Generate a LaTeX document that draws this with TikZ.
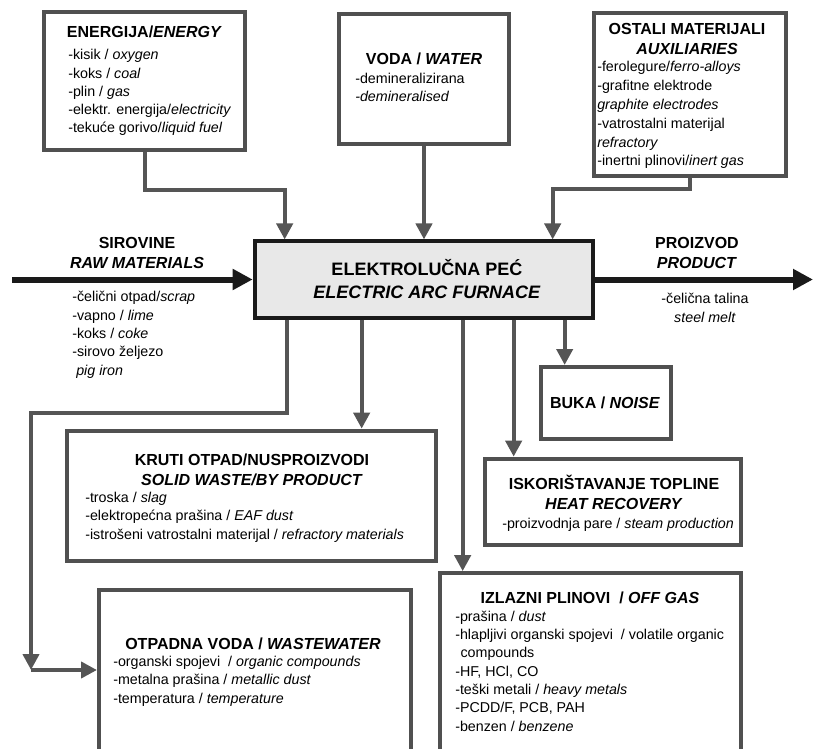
\documentclass[tikz,border=0pt]{standalone}
\usepackage{fontspec}
\setmainfont{Liberation Sans}
\usepackage{tikz}
\usetikzlibrary{arrows.meta, positioning, calc}
\definecolor{boxgray}{HTML}{505050}
\definecolor{linegray}{HTML}{555555}
\definecolor{furnacefill}{HTML}{E8E8E8}
\definecolor{inkblack}{HTML}{1A1A1A}
\newcommand{\headfont}{\fontsize{12}{15}\selectfont\bfseries}
\newcommand{\bigheadfont}{\fontsize{13.5}{17}\selectfont\bfseries}
\newcommand{\listfont}{\fontsize{10.7}{13.7}\selectfont}

\tikzset{
  box/.style={draw=boxgray, line width=3pt, fill=white, inner sep=0pt},
  furnace/.style={draw=inkblack, line width=3pt, fill=furnacefill, inner sep=0pt},
  flow/.style={draw=linegray, line width=3pt, -{Triangle[length=12pt,width=12pt]}},
  mainflow/.style={draw=inkblack, line width=4.5pt, -{Triangle[length=15pt,width=15pt]}},
  head/.style={font=\headfont, align=center, anchor=base, inner sep=0pt},
  items/.style={font=\listfont, align=left, anchor=base west, inner sep=0pt}
}

\begin{document}
\begin{tikzpicture}[x=0.75pt, y=-0.75pt]
  \useasboundingbox (0,0) rectangle (819,749);
  % boxes
  \node[box, minimum width=151pt, minimum height=104pt] (energy) at (144.5,81) {};
  \node[box, minimum width=128pt, minimum height=98pt] (voda) at (424,79) {};
  \node[box, minimum width=144pt, minimum height=122pt] (ostali) at (690,94.5) {};
  \node[furnace, minimum width=254pt, minimum height=57pt] (eaf) at (424,279.5) {};
  \node[box, minimum width=98pt, minimum height=54pt] (buka) at (606,403) {};
  \node[box, minimum width=277pt, minimum height=98pt] (solid) at (251.5,496) {};
  \node[box, minimum width=192pt, minimum height=65pt] (heat) at (613,502) {};
  \node[box, minimum width=226pt, minimum height=140pt] (offgas) at (590.5,666.5) {};
  \node[box, minimum width=234pt, minimum height=128pt] (waste) at (255,675) {};

  % inputs
  \draw[flow] (energy.south) -- ++(0,38) -| ($(eaf.north west)+(32,0)$);
  \draw[flow] (voda.south) -- (eaf.north);
  \draw[flow] (ostali.south) -- ++(0,11) -| ($(eaf.north west)+(300,0)$);
  \coordinate (rawin) at (12,279.5);
  \coordinate (prodout) at (813,279.5);
  \draw[mainflow] (rawin) -- (eaf.west);
  \draw[mainflow] (eaf.east) -- (prodout);

  % outputs
  \foreach \dx/\nm in {34/o1, 109/o2, 210/o3, 261/o4, 312/o5}
    \coordinate (\nm) at ($(eaf.south west)+(\dx,0)$);
  \coordinate (wbend) at (31,413);
  \coordinate (wcorner) at (31,670);
  \draw[flow] (o1) |- (wbend) -- (wcorner);
  \draw[flow] (wcorner) -- (wcorner -| waste.west);
  \foreach \src/\dst in {o2/solid, o3/offgas, o4/heat, o5/buka}
    \draw[flow] (\src) -- (\src |- \dst.north);

  % texts (multi-line nodes sit on their last baseline)
  \node[head] (energyhead) at (144.5,38) {ENERGIJA/\textit{ENERGY}};
  \node[items] (energylist) at (68,133) {-kisik / \textit{oxygen}\\-koks / \textit{coal}\\-plin / \textit{gas}\\-elektr. energija/\textit{electricity}\\-tekuće gorivo/\textit{liquid fuel}};
  \node[head] (vodahead) at (424,65) {VODA / \textit{WATER}};
  \node[items] (vodalist) at (355,102) {-demineralizirana\\\textit{-demineralised}};
  \node[head] (ostalihead) at (687,55) {OSTALI MATERIJALI\\\textit{AUXILIARIES}};
  \node[items, font=\fontsize{10.7}{14.1}\selectfont] (ostalilist) at (597,166) {-ferolegure/\textit{ferro-alloys}\\-grafitne elektrode\\\textit{graphite electrodes}\\-vatrostalni materijal\\\textit{refractory}\\-inertni plinovi/\textit{inert gas}};
  \node[head] (rawhead) at (137,268) {SIROVINE\\\textit{RAW MATERIALS}};
  \node[items] (rawlist) at (72,375) {-čelični otpad/\textit{scrap}\\-vapno / \textit{lime}\\-koks / \textit{coke}\\-sirovo željezo\\\hspace{3pt}\textit{pig iron}};
  \node[head, font=\bigheadfont] (eafhead) at (427,298) {ELEKTROLUČNA PEĆ\\\textit{ELECTRIC ARC FURNACE}};
  \node[head] (prodhead) at (697,268) {PROIZVOD\\\textit{PRODUCT}};
  \node[items, align=center, anchor=base] (prodlist) at (705,322) {-čelična talina\\\textit{steel melt}};
  \node[head] (bukahead) at (605,408) {BUKA / \textit{NOISE}};
  \node[head] (solidhead) at (252,485) {KRUTI OTPAD/NUSPROIZVODI\\\textit{SOLID WASTE/BY PRODUCT}};
  \node[items] (solidlist) at (85,539) {-troska / \textit{slag}\\-elektropećna prašina / \textit{EAF dust}\\-istrošeni vatrostalni materijal / \textit{refractory materials}};
  \node[head] (heathead) at (614,509) {ISKORIŠTAVANJE TOPLINE\\\textit{HEAT RECOVERY}};
  \node[items] (heatlist) at (502,528) {-proizvodnja pare / \textit{steam production}};
  \node[head] (offgashead) at (590,603) {IZLAZNI PLINOVI \ / \textit{OFF GAS}};
  \node[items] (offgaslist) at (455,731) {-prašina / \textit{dust}\\-hlapljivi organski spojevi \ / volatile organic\\\hspace{4pt}compounds\\-HF, HCl, CO\\-teški metali / \textit{heavy metals}\\-PCDD/F, PCB, PAH\\-benzen / \textit{benzene}};
  \node[head] (wastehead) at (253,649) {OTPADNA VODA / \textit{WASTEWATER}};
  \node[items] (wastelist) at (113,703) {-organski spojevi \ / \textit{organic compounds}\\-metalna prašina / \textit{metallic dust}\\-temperatura / \textit{temperature}};
\end{tikzpicture}
\end{document}
